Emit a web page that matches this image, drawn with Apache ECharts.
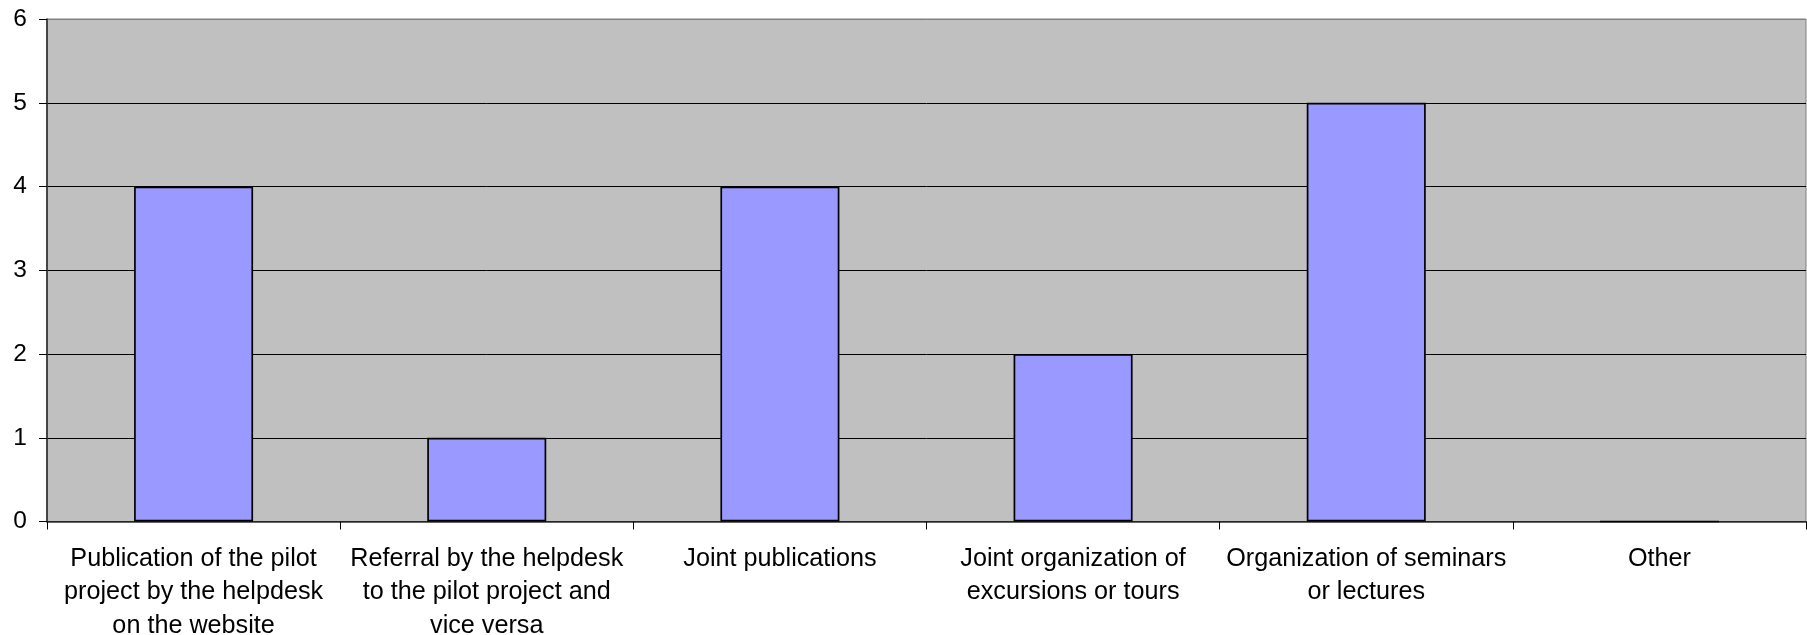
<!DOCTYPE html>
<html>
<head>
<meta charset="utf-8">
<script src="https://cdn.jsdelivr.net/npm/echarts@6/dist/echarts.min.js"></script>
<style>
html,body{margin:0;padding:0;background:#fff;}
#chart{width:1807px;height:635px;}
</style>
</head>
<body>
<div id="chart"></div>
<script>
const categories = [
  "Publication of the pilot\nproject by the helpdesk\non the website",
  "Referral by the helpdesk\nto the pilot project and\nvice versa",
  "Joint publications",
  "Joint organization of\nexcursions or tours",
  "Organization of seminars\nor lectures",
  "Other"
];
const values = [4, 1, 4, 2, 5, 0];
const yTicks = { min: 0, max: 6, interval: 1 };

const chart = echarts.init(document.getElementById('chart'), null, {renderer: 'canvas'});
chart.setOption({
  animation: false,
  backgroundColor: '#ffffff',
  textStyle: { fontFamily: 'Liberation Sans, Arial, sans-serif' },
  grid: {
    left: 47, right: 1, top: 19, bottom: 113.5,
    show: true, backgroundColor: '#C0C0C0', borderColor: '#808080', borderWidth: 1,
    containLabel: false,
    outerBoundsMode: 'none'
  },
  xAxis: {
    type: 'category',
    data: categories,
    axisLine: { show: true, lineStyle: { color: '#333333', width: 1.5 } },
    axisTick: { show: true, alignWithLabel: false, length: 8, lineStyle: { color: '#000', width: 1 } },
    axisLabel: {
      interval: 0, margin: 20.5, color: '#000', fontSize: 25.2, lineHeight: 33.5,
      fontFamily: 'Liberation Sans, Arial, sans-serif', align: 'center'
    },
    splitLine: { show: false }
  },
  yAxis: {
    type: 'value',
    min: yTicks.min, max: yTicks.max, interval: yTicks.interval,
    axisLine: { show: true, lineStyle: { color: '#333333', width: 1.7 } },
    axisTick: { show: true, length: 8, lineStyle: { color: '#000', width: 1 } },
    axisLabel: { margin: 20, color: '#000', fontSize: 24.5, fontFamily: 'Liberation Sans, Arial, sans-serif' },
    splitLine: { show: true, lineStyle: { color: ['#000','#000','#000','#000','#000','#000','#808080'], width: 1 } }
  },
  series: [{
    type: 'bar',
    data: values,
    barWidth: '40.6%',
    itemStyle: { color: '#9999FF', borderColor: '#000000', borderWidth: 1.7 }
  }]
});
</script>
</body>
</html>
